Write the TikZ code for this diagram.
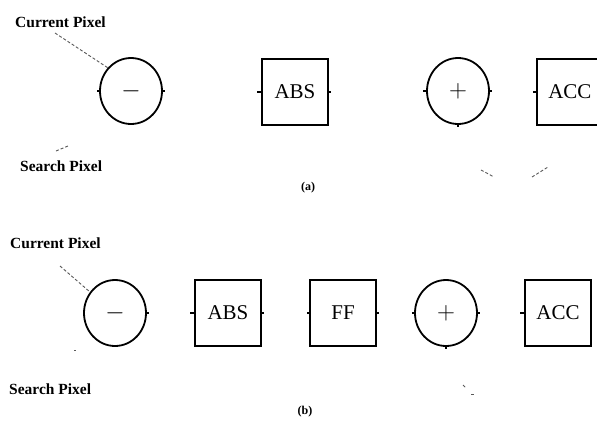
\documentclass[tikz,border=0pt]{standalone}
\usepackage{fontspec}
\setmainfont{Liberation Serif}
\usetikzlibrary{shapes.geometric}
\begin{document}
\begin{tikzpicture}[x=1pt,y=-1pt,
  op/.style={draw, line width=1.8pt, ellipse, minimum width=62pt, minimum height=66pt, inner sep=0pt, font=\fontsize{23}{23}\selectfont},
  blk/.style={draw, line width=1.7pt, rectangle, minimum width=66pt, minimum height=66pt, inner sep=0pt, font=\fontsize{21}{21}\selectfont},
  lab/.style={font=\bfseries\fontsize{15.5}{15.5}\selectfont, inner sep=0pt},
  captxt/.style={font=\bfseries\fontsize{12}{12}\selectfont, inner sep=0pt},
  wire/.style={densely dashed, line width=0.9pt, gray!70!black},
  tick/.style={line width=1.4pt}]
\useasboundingbox (0,0) rectangle (597,421);
\clip (0,0) rectangle (597,421);

% ---- (a) difference, absolute value, accumulate ----
\node[lab, anchor=west] (cpa) at (15,22) {Current Pixel};
\node[op] (suba) at (131,91) {$-$};
\node[lab, anchor=west] (spa) at (20,166) {Search Pixel};
\node[blk] (absa) at (295,92) {ABS};
\node[op] (adda) at (458,91) {$+$};
\node[blk, anchor=west] (acca) at (536,92) {ACC};
\node[captxt] (capa) at (308,188) {(a)};

\coordinate (cpa-out) at (55,33);
\draw[wire] (cpa-out) -- (suba.135);
\coordinate (spa-a) at (56,151);
\coordinate (spa-b) at (68,146);
\draw[wire] (spa-a) -- (spa-b);
\coordinate (fa1) at (481,170);
\coordinate (fa2) at (494,177);
\draw[wire] (fa1) -- (fa2);
\coordinate (fa3) at (532,177);
\coordinate (fa4) at (548,167);
\draw[wire] (fa3) -- (fa4);

% port marks
\draw[tick] (suba.west) -- ++(-2,0);
\draw[tick] (suba.east) -- ++(2,0);
\draw[tick] (absa.west) -- ++(-4,0);
\draw[tick] (absa.east) -- ++(2,0);
\draw[tick] (adda.west) -- ++(-3,0);
\draw[tick] (adda.east) -- ++(2,0);
\draw[tick] (adda.south) -- ++(0,2);
\draw[tick] (acca.west) -- ++(-3,0);

% ---- (b) with a flip-flop stage ----
\node[lab, anchor=west] (cpb) at (10,243) {Current Pixel};
\node[op] (subb) at (115,313) {$-$};
\node[lab, anchor=west] (spb) at (9,389) {Search Pixel};
\node[blk] (absb) at (228,313) {ABS};
\node[blk] (ffb) at (343,313) {FF};
\node[op] (addb) at (446,313) {$+$};
\node[blk] (accb) at (558,313) {ACC};
\node[captxt] (capb) at (305,412) {(b)};

\coordinate (cpb-out) at (60,266);
\draw[wire] (cpb-out) -- (subb.140);
\coordinate (spb-a) at (74,350);
\coordinate (spb-b) at (76,350);
\draw[wire] (spb-a) -- (spb-b);
\coordinate (fb1) at (463,385);
\coordinate (fb2) at (466,388);
\draw[wire] (fb1) -- (fb2);
\coordinate (fb3) at (471,394);
\coordinate (fb4) at (474,394);
\draw[wire] (fb3) -- (fb4);

\draw[tick] (subb.east) -- ++(2,0);
\draw[tick] (absb.west) -- ++(-4,0);
\draw[tick] (absb.east) -- ++(2,0);
\draw[tick] (ffb.west) -- ++(-2,0);
\draw[tick] (ffb.east) -- ++(2,0);
\draw[tick] (addb.west) -- ++(-2,0);
\draw[tick] (addb.east) -- ++(2,0);
\draw[tick] (addb.south) -- ++(0,2);
\draw[tick] (accb.west) -- ++(-4,0);
\end{tikzpicture}
\end{document}
